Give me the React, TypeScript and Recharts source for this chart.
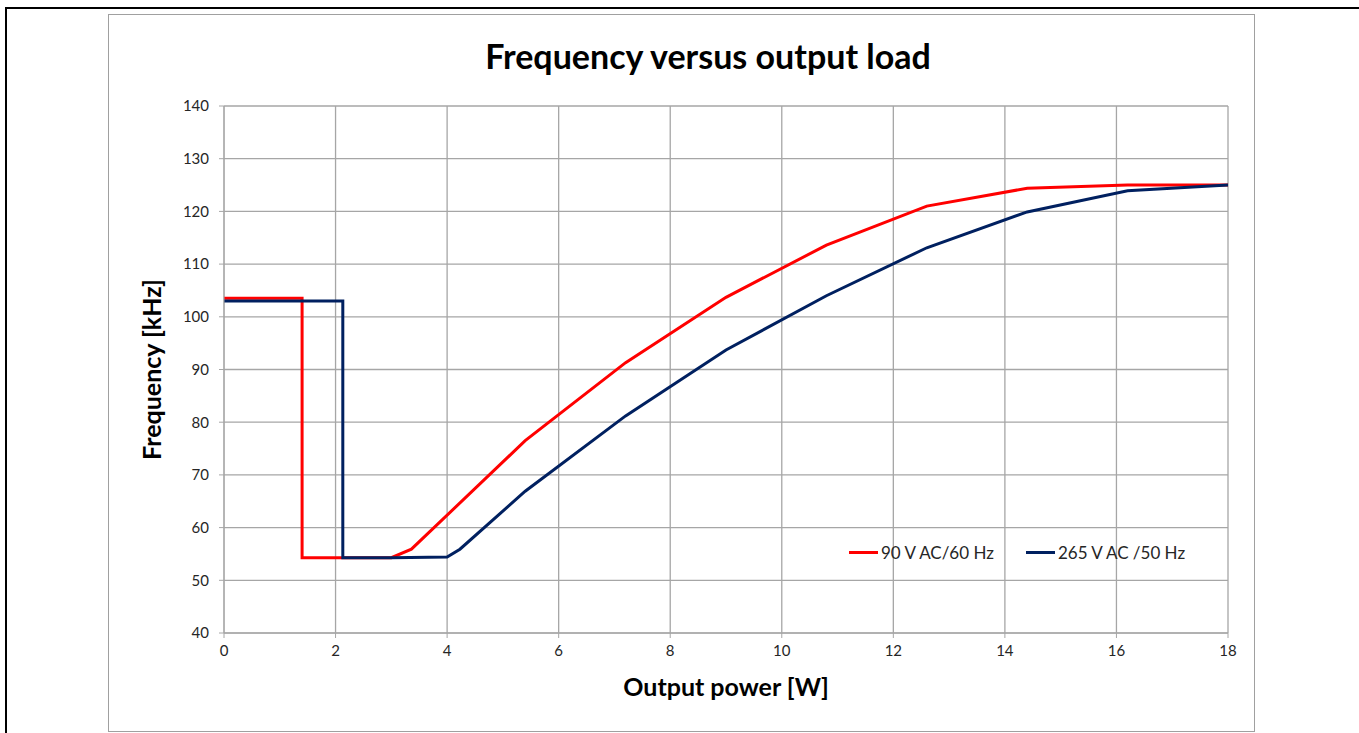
import React from "react";
import {
  LineChart,
  Line,
  XAxis,
  YAxis,
  CartesianGrid,
  Legend,
  Label,
} from "recharts";

// 90 V AC / 60 Hz
const redPower = [0, 1.4, 1.4, 3.0, 3.36, 5.4, 7.2, 9.0, 10.8, 12.6, 14.4, 16.2, 18];
const redFreq = [103.5, 103.5, 54.3, 54.3, 55.9, 76.5, 91.3, 103.7, 113.6, 121.0, 124.4, 125.0, 125.0];

// 265 V AC / 50 Hz
const bluePower = [0, 2.13, 2.13, 3.0, 4.0, 4.23, 5.4, 7.2, 9.0, 10.8, 12.6, 14.4, 16.2, 18];
const blueFreq = [103.0, 103.0, 54.3, 54.3, 54.4, 55.9, 66.9, 81.2, 93.7, 104.0, 113.1, 119.9, 123.9, 125.0];

const xTicks = [0, 2, 4, 6, 8, 10, 12, 14, 16, 18];
const yTicks = [40, 50, 60, 70, 80, 90, 100, 110, 120, 130, 140];

const redName = "90 V AC/60 Hz";
const blueName = "265 V AC /50 Hz";
const seriesOrder = [redName, blueName];
const RED = "#ff0000";
const BLUE = "#002060";
const GRID = "#a6a6a6";
const FONT = "Lato, 'Open Sans', sans-serif";

const redData = redPower.map((w, i) => ({ w, f: redFreq[i] }));
const blueData = bluePower.map((w, i) => ({ w, f: blueFreq[i] }));

function LegendBox({ payload }: any) {
  const items = [...(payload || [])].sort(
    (a: any, b: any) => seriesOrder.indexOf(a.value) - seriesOrder.indexOf(b.value)
  );
  return (
    <div style={{ display: "flex", fontFamily: FONT, fontSize: 17, color: "#262626" }}>
      {items.map((p: any, i: number) => (
        <div key={i} style={{ display: "flex", alignItems: "center", marginRight: i === 0 ? 32 : 0 }}>
          <span style={{ display: "inline-block", width: 29, height: 3, background: p.color, marginRight: 3 }} />
          <span>{p.value}</span>
        </div>
      ))}
    </div>
  );
}

export default function App() {
  return (
    <div
      style={{
        position: "absolute",
        left: 0,
        top: 0,
        width: 1359,
        height: 733,
        overflow: "hidden",
        background: "#fff",
      }}
    >
      <div
        style={{
          position: "absolute",
          left: 5,
          top: 7,
          width: 1400,
          height: 800,
          borderLeft: "2px solid #000",
          borderTop: "2px solid #000",
        }}
      />
      <div
        style={{
          position: "absolute",
          left: 108,
          top: 14,
          width: 1147,
          height: 718,
          boxSizing: "border-box",
          border: "1px solid #a0a0a0",
        }}
      />
      <div
        style={{
          position: "absolute",
          left: 408,
          width: 600,
          top: 35,
          textAlign: "center",
          fontFamily: FONT,
          fontWeight: 700,
          fontSize: 34,
          color: "#000",
        }}
      >
        Frequency versus output load
      </div>
      <div style={{ position: "absolute", left: 0, top: 0 }}>
        <LineChart
          width={1359}
          height={733}
          margin={{ top: 106, right: 131, bottom: 60, left: 152 }}
        >
          <CartesianGrid stroke={GRID} strokeWidth={1.3} />
          <XAxis
            type="number"
            dataKey="w"
            domain={[0, 18]}
            ticks={xTicks}
            height={40}
            stroke={GRID}
            tickSize={5}
            tickMargin={7}
            tick={{ fill: "#262626", fontSize: 15, fontFamily: FONT }}
            allowDataOverflow
          >
            <Label
              value="Output power [W]"
              position="bottom"
              offset={5}
              style={{ fontFamily: FONT, fontWeight: 700, fontSize: 25, fill: "#000" }}
            />
          </XAxis>
          <YAxis
            type="number"
            domain={[40, 140]}
            ticks={yTicks}
            width={72}
            stroke={GRID}
            tickSize={5}
            tickMargin={10}
            tick={{ fill: "#262626", fontSize: 15, fontFamily: FONT }}
            allowDataOverflow
          >
            <Label
              value="Frequency [kHz]"
              angle={-90}
              position="insideLeft"
              offset={0}
              style={{ fontFamily: FONT, fontWeight: 700, fontSize: 25, fill: "#000", textAnchor: "middle" }}
            />
          </YAxis>
          <Legend
            layout="horizontal"
            verticalAlign="middle"
            align="center"
            content={<LegendBox />}
            wrapperStyle={{ left: 849, top: 542, width: "auto", height: "auto" }}
          />
          <Line
            data={redData}
            dataKey="f"
            name={redName}
            type="linear"
            stroke={RED}
            strokeWidth={3}
            dot={false}
            isAnimationActive={false}
          />
          <Line
            data={blueData}
            dataKey="f"
            name={blueName}
            type="linear"
            stroke={BLUE}
            strokeWidth={3}
            dot={false}
            isAnimationActive={false}
          />
        </LineChart>
      </div>
    </div>
  );
}
